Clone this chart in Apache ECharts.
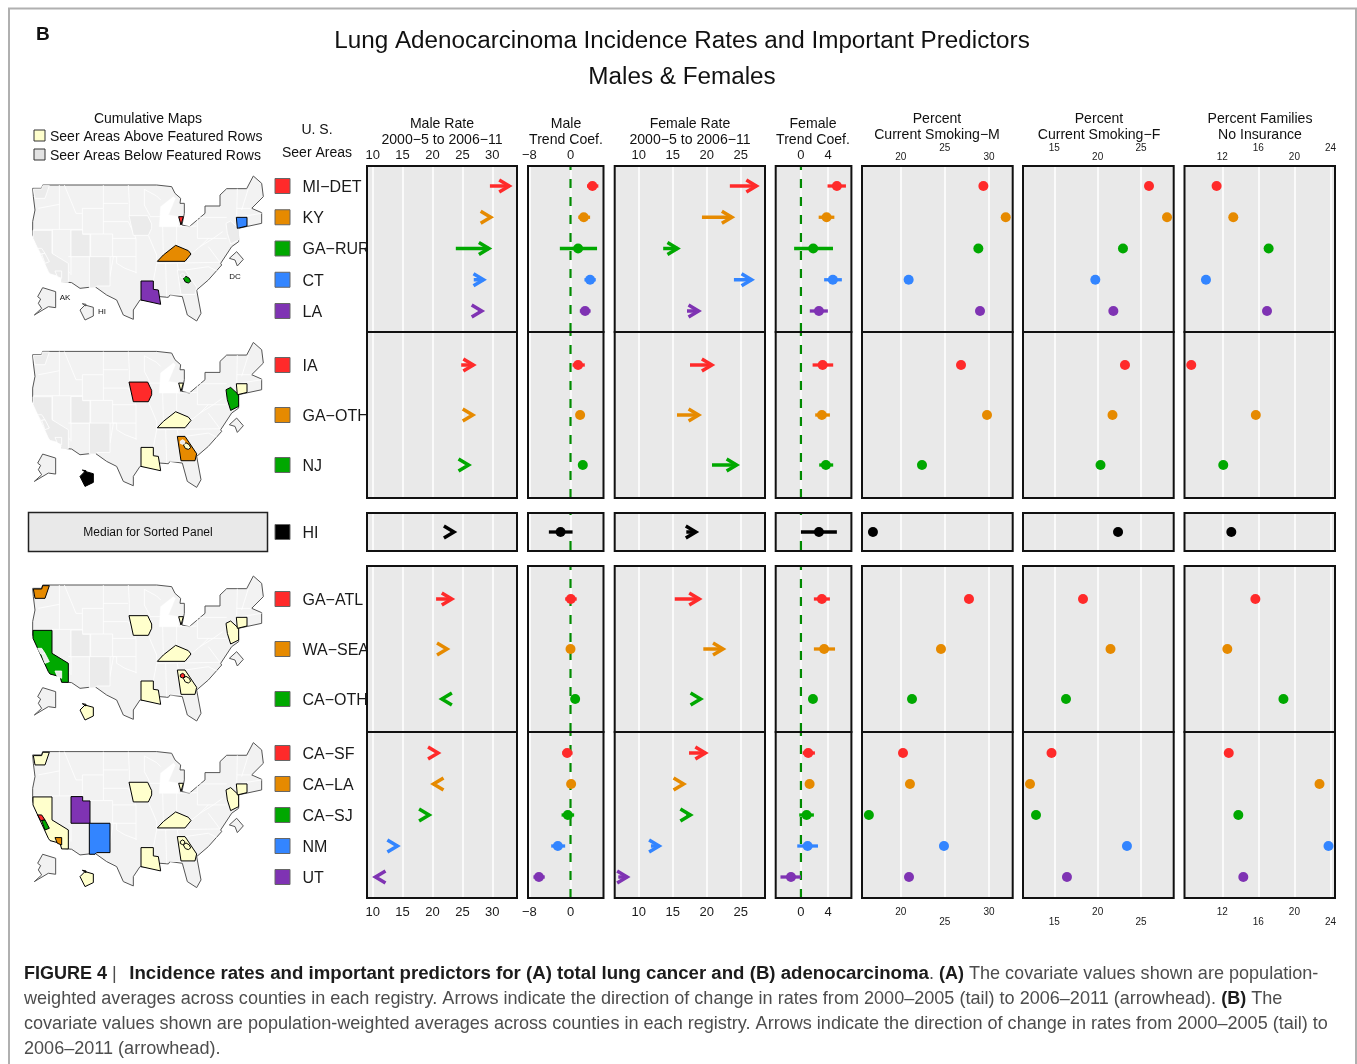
<!DOCTYPE html>
<html>
<head>
<meta charset="utf-8">
<style>html,body{margin:0;padding:0;background:#fff}#chart{width:1357px;height:1064px}</style>
<script src="https://cdn.jsdelivr.net/npm/echarts@6/dist/echarts.min.js"></script>
</head>
<body>
<div id="chart"></div>
<script>
// ---------- DATA (17 SEER areas, in display order) ----------
const rowLabels = ['MI\u2212DET','KY','GA\u2212RUR','CT','LA','IA','GA\u2212OTH','NJ','HI','GA\u2212ATL','WA\u2212SEA','CA\u2212OTH','CA\u2212SF','CA\u2212LA','CA\u2212SJ','NM','UT'];
const groupSizes = [5,3,1,3,5];
const maleRateTail = [29.6,29.5,23.9,26.9,27.6,24.8,26.5,25.8,23.0,20.6,22.3,21.8,20.7,20.4,19.2,13.9,10.7];
const maleRateHead = [33.4,30.3,30.0,29.1,28.8,27.4,27.3,26.6,24.15,23.8,23.0,21.0,21.5,19.6,20.0,14.7,9.9];
const maleTrend = [4.25,2.57,1.47,3.8,2.83,1.47,1.86,2.38,-1.93,0.06,0,0.9,-0.65,0.12,-0.52,-2.46,-6.13];
const maleTrendLo = [3.2,1.5,-2.07,2.7,1.8,0.39,1.4,2.0,-4.2,-1.04,-0.5,0.4,-1.6,-0.7,-1.74,-3.75,-7.2];
const maleTrendHi = [5.4,3.8,5.15,4.9,3.9,2.77,2.3,2.8,0.4,1.2,0.5,1.4,0.4,0.9,0.7,-1.04,-5];
const femaleRateTail = [23.4,19.3,13.6,24.0,17.1,17.54,15.63,20.78,17.0,15.3,19.5,18.9,17.4,16.4,17.0,11.8,7.0];
const femaleRateHead = [27.8,24.2,16.2,27.1,19.3,21.26,19.31,24.9,18.9,19.4,22.9,19.6,20.3,17.1,18.1,13.5,8.8];
const femaleTrend = [5.27,3.76,1.8,4.68,2.64,3.18,3.07,3.66,2.64,3.07,3.4,1.76,1.07,1.27,0.83,0.98,-1.46];
const femaleTrendLo = [3.9,2.6,-1.0,3.4,1.3,1.71,2.09,2.68,0,1.9,1.9,1.3,0.25,0.7,-0.25,-0.54,-3];
const femaleTrendHi = [6.6,4.9,4.7,6.0,3.95,4.73,4.25,4.73,5.27,4.25,5.0,2.2,2.05,1.8,1.9,2.5,0];
const smokingM = [29.36,31.89,28.79,20.9,28.98,26.83,29.77,22.41,16.86,27.73,24.56,21.28,20.26,21.05,16.4,24.9,20.94];
const smokingF = [25.92,28.0,22.92,19.73,21.81,23.15,21.71,20.33,22.35,18.31,21.48,16.35,14.68,12.2,12.89,23.38,16.46];
const noInsurance = [11.37,13.22,17.14,10.19,16.96,8.56,15.72,12.11,13.0,15.67,12.56,18.78,12.72,22.78,13.78,23.78,14.33];

const ticksMaleRate = [10,15,20,25,30];
const ticksMaleTrend = [-8,0];
const ticksFemaleRate = [10,15,20,25];
const ticksFemaleTrend = [0,4];
const ticksSmokingM = [20,25,30];
const ticksSmokingF = [15,20,25];
const ticksInsurance = [12,16,20,24];
const farSmokingM = [25];
const farSmokingF = [15,25];
const farInsurance = [16,24];

const headers = [
  ['Male Rate','2000\u22125 to 2006\u221211'],
  ['Male','Trend Coef.'],
  ['Female Rate','2000\u22125 to 2006\u221211'],
  ['Female','Trend Coef.'],
  ['Percent','Current Smoking\u2212M'],
  ['Percent','Current Smoking\u2212F'],
  ['Percent Families','No Insurance']
];

// ---------- STYLE ----------
const FONT = '"Liberation Sans", Arial, sans-serif';
const palette = ['#ff2a2a','#e68a00','#00a800','#3385ff','#7f33b3'];
const PANEL = '#e9e9e9', YELLOW = '#ffffcc', LIGHT = '#f2f2f2', DARKER = '#ebebeb';

// Panel layout
const columns = [
  {left:367,   width:150,   min:9.05,   max:34.13, ticks:ticksMaleRate,   far:null,          kind:'arrow', a:maleRateTail,   b:maleRateHead},
  {left:528,   width:75.5,  min:-8.25,  max:6.4,   ticks:ticksMaleTrend,  far:null,          kind:'trend', a:maleTrend,      lo:maleTrendLo, hi:maleTrendHi},
  {left:614.7, width:150.3, min:6.47,   max:28.57, ticks:ticksFemaleRate, far:null,          kind:'arrow', a:femaleRateTail, b:femaleRateHead},
  {left:775.7, width:75.7,  min:-3.7,   max:7.4,   ticks:ticksFemaleTrend,far:null,          kind:'trend', a:femaleTrend,    lo:femaleTrendLo, hi:femaleTrendHi},
  {left:862,   width:150.7, min:15.62,  max:32.68, ticks:ticksSmokingM,   far:farSmokingM,   kind:'dot',   a:smokingM},
  {left:1023,  width:150.7, min:11.39,  max:28.77, ticks:ticksSmokingF,   far:farSmokingF,   kind:'dot',   a:smokingF},
  {left:1184.5,width:150.5, min:7.81,   max:24.5,  ticks:ticksInsurance,  far:farInsurance,  kind:'dot',   a:noInsurance}
];
const groups = [
  {top:166, height:166, ymin:-0.64, ymax:4.672, dash:[9,9]},
  {top:332, height:166, ymin:-0.66, ymax:2.66,  dash:[9,9]},
  {top:513, height:38,  ymin:-0.5,  ymax:0.5,   dash:[10,26]},
  {top:566, height:166, ymin:-0.66, ymax:2.66,  dash:[9,9]},
  {top:732, height:166, ymin:-0.677,ymax:4.677, dash:[9,9]}
];

// Row colours: each group cycles through the palette, HI is black
let offset = 0;
groups.forEach((g,gi)=>{ g.start = offset; g.n = groupSizes[gi]; offset += g.n; });
const rowColor = (gi,r)=> gi===2 ? '#000' : palette[r];

// ---------- MAP GEOMETRY (schematic outline, local units) ----------
const P = {
 outline:[[98,265],[125,265],[128,255],[470,255],[515,260],[525,280],[542,295],[540,310],[553,310],[553,340],[546,375],[568,380],[615,340],[615,318],[660,318],[660,285],[680,266],[740,266],[760,228],[785,250],[790,290],[755,325],[785,338],[785,370],[715,385],[716,425],[695,440],[662,490],[665,495],[625,540],[590,570],[603,640],[590,663],[562,645],[547,590],[510,585],[505,592],[480,590],[455,602],[420,600],[400,630],[400,658],[370,645],[350,600],[320,585],[285,560],[240,565],[215,548],[185,545],[185,520],[150,515],[98,405],[98,365],[105,330],[100,290]],
 lake:[[478,380],[482,320],[520,290],[526,295],[505,345],[535,350],[535,380]],
 AK:[[113,590],[128,563],[167,575],[167,623],[145,620],[103,645],[125,625],[115,610],[122,597]],
 DC:[[688,475],[710,455],[730,478],[712,498],[705,480]],
 HI:[[240,630],[255,615],[280,622],[280,648],[255,660]],
 HI2:[[247,611],[258,613],[258,618]],
 IA:[[387,347],[443,347],[455,372],[455,385],[445,406],[400,406]],
 NJ:[[678,370],[692,363],[716,385],[716,420],[692,432],[682,400]],
 CT:[[709,352],[741,352],[741,378],[712,385]],
 MI:[[536,350],[550,350],[543,375]],
 KY:[[472,484],[490,465],[527,436],[565,452],[573,462],[555,484]],
 GA:[[532,510],[555,510],[590,562],[585,583],[543,583]],
 RUR:[[550,535],[558,529],[568,535],[572,544],[565,549],[556,546]],
 ATL:[[541,524],[548,520],[554,524],[554,531],[548,534],[541,531]],
 LA:[[423,543],[460,543],[460,568],[475,570],[482,613],[423,600]],
 UT:[[213,390],[248,390],[248,403],[270,403],[270,470],[213,470]],
 NM:[[268,470],[330,470],[330,558],[290,558],[285,563],[268,563]],
 CA:[[99,391],[156,391],[156,460],[205,490],[205,547],[185,547],[180,530],[150,522],[145,515],[99,415]],
 SF:[[113,445],[125,445],[135,460],[122,462]],
 SJ:[[125,462],[135,460],[148,485],[135,490]],
 CALA:[[165,513],[185,513],[185,535],[172,530]],
 WA:[[100,267],[125,267],[128,257],[148,257],[135,295],[105,295]]
};
const stateLines = [
 [[178,255],[178,388]],[[115,325],[178,313]],[[193,255],[228,340],[247,340]],
 [[247,325],[310,325],[310,402],[247,402],[247,325]],[[310,255],[310,325]],[[310,310],[385,310]],
 [[385,255],[388,310],[388,347]],[[310,365],[385,365],[408,415]],[[310,402],[338,402],[338,470]],
 [[338,415],[408,415]],[[338,470],[408,470]],[[408,415],[408,520]],[[330,470],[350,470],[350,490],[375,505],[410,518]],
 [[100,388],[247,388]],[[157,388],[157,460],[210,520]],[[213,390],[213,525]],[[270,470],[270,565]],[[205,470],[270,470]],
 [[272,402],[272,470]],[[433,268],[433,315],[450,347]],[[450,350],[490,350]],[[433,268],[470,288],[482,300]],
 [[445,406],[470,465],[470,490]],[[488,380],[490,465]],[[530,380],[530,436]],[[535,380],[590,378]],[[592,352],[592,415]],
 [[592,352],[680,352]],[[712,266],[710,352]],[[725,330],[745,266]],[[710,325],[755,325]],[[710,352],[785,340]],
 [[470,490],[660,487]],[[573,462],[600,440],[640,415],[668,395]],[[592,415],[680,415]],[[600,440],[625,415]],
 [[470,490],[460,543]],[[497,490],[500,590]],[[532,490],[545,583]],[[510,585],[585,583]],
 [[555,510],[625,500],[650,512]],[[625,440],[660,487]],[[340,470],[330,530]]
];
const mapRegions = [
 ['outline',[P.outline]],['states',null],['lake',[P.lake]],
 ['AK',[P.AK]],['DC',[P.DC]],['HI',[P.HI,P.HI2]],
 ['IA',[P.IA]],['GA\u2212OTH',[P.GA]],['NJ',[P.NJ]],['CA\u2212OTH',[P.CA]],['UT',[P.UT]],['NM',[P.NM]],['KY',[P.KY]],['LA',[P.LA]],
 ['CT',[P.CT]],['MI\u2212DET',[P.MI]],['WA\u2212SEA',[P.WA]],['GA\u2212RUR',[P.RUR]],['GA\u2212ATL',[P.ATL]],
 ['CA\u2212SF',[P.SF]],['CA\u2212SJ',[P.SJ]],['CA\u2212LA',[P.CALA]]
];
const flipRing = r => r.map(p=>[p[0],-p[1]]);
const geojson = {type:'FeatureCollection',features:mapRegions.map(([name,rings])=>({
  type:'Feature',properties:{name},
  geometry: rings ? {type:'MultiPolygon',coordinates:rings.map(r=>[flipRing(r.concat([r[0]]))])}
                  : {type:'MultiLineString',coordinates:stateLines.map(flipRing)}
}))};
echarts.registerMap('usSeer',geojson);

// ---------- BUILD OPTION ----------
const grid=[], xAxis=[], yAxis=[], series=[], geo=[];
let axisIdx=0;
const noLine={show:false};

function makeAxisLabel(col,gi){
  const show = gi===0||gi===4;
  const small = !!col.far;
  const pad = gi===0 ? [0,0,9,0] : [10,0,0,0];
  return {
    show, customValues:col.ticks, hideOverlap:false,
    margin: gi===0 ? (small?4:4) : (small?9:8),
    color:'#1a1a1a', fontFamily:FONT, fontSize: small?10:13,
    formatter:(v)=>{
      const s=String(v).replace('-','\u2212');
      if(!small) return s;
      return col.far.includes(v)?`{far|${s}}`:`{near|${s}}`;
    },
    rich:{far:{fontSize:10,fontFamily:FONT,color:'#1a1a1a',padding:pad},near:{fontSize:10,fontFamily:FONT,color:'#1a1a1a'}}
  };
}

const renderArrow = (colors)=> (params,api)=>{
  const r=api.value(2);
  const t=api.coord([api.value(0),r]), h=api.coord([api.value(1),r]);
  const dir=h[0]>=t[0]?1:-1, color=colors[r];
  const tip=h[0]-3.4*dir, y=h[1];
  const st={stroke:color,lineWidth:3.5,fill:null,lineJoin:'miter',miterLimit:10};
  return {type:'group',children:[
    {type:'polyline',shape:{points:[[t[0],y],[tip,y]]},style:st},
    {type:'polyline',shape:{points:[[tip-10*dir,y-6],[tip,y],[tip-10*dir,y+6]]},style:st}
  ]};
};
const renderCI = (colors)=> (params,api)=>{
  const r=api.value(2);
  const a=api.coord([api.value(0),r]), b=api.coord([api.value(1),r]);
  return {type:'line',shape:{x1:a[0],y1:a[1],x2:b[0],y2:b[1]},style:{stroke:colors[r],lineWidth:3.3}};
};

const frames=[];
groups.forEach((g,gi)=>{
  const rows=[...Array(g.n).keys()];
  const colors=rows.map(r=>rowColor(gi,r));
  // Swatch + row-label column (sits under the panels so long names are cut by the first panel)
  grid.push({left:275,top:g.top,width:92,height:g.height,show:false,z:1});
  xAxis.push({gridIndex:axisIdx,type:'value',min:0,max:92,show:false});
  yAxis.push({gridIndex:axisIdx,type:'value',min:g.ymin,max:g.ymax,inverse:true,show:false});
  series.push({type:'scatter',xAxisIndex:axisIdx,yAxisIndex:axisIdx,z:1,silent:true,clip:false,
    symbol:'rect',symbolSize:15,
    data:rows.map(r=>({value:[7.5,r],name:rowLabels[g.start+r],
      itemStyle:{color:colors[r],borderColor:'#666',borderWidth:1,opacity:1}})),
    label:{show:true,position:'right',distance:12,offset:[0,1.5],formatter:'{b}',fontFamily:FONT,fontSize:16,color:'#1a1a1a'}
  });
  axisIdx++;

  columns.forEach((col,ci)=>{
    grid.push({left:col.left,top:g.top,width:col.width,height:g.height,show:true,z:2,
      backgroundColor:PANEL,borderWidth:0});
    frames.push({type:'rect',silent:true,z:20,shape:{x:col.left,y:g.top,width:col.width,height:g.height},style:{fill:null,stroke:'#111',lineWidth:2}});
    xAxis.push({gridIndex:axisIdx,type:'value',min:col.min,max:col.max,z:3,
      position: gi===4?'bottom':'top',
      axisLine:noLine,axisTick:{show:false,customValues:col.ticks},
      splitLine:{show:true,lineStyle:{color:'#fff',width:1.5}},
      axisLabel:makeAxisLabel(col,gi)});
    yAxis.push({gridIndex:axisIdx,type:'value',min:g.ymin,max:g.ymax,inverse:true,show:false,splitLine:noLine});
    const base={xAxisIndex:axisIdx,yAxisIndex:axisIdx,silent:true};
    const slice=arr=>arr.slice(g.start,g.start+g.n);
    if(col.kind==='arrow'){
      const tail=slice(col.a), head=slice(col.b);
      series.push({...base,type:'custom',z:6,renderItem:renderArrow(colors),
        encode:{x:[0,1],y:2},data:rows.map(r=>[tail[r],head[r],r])});
    }
    if(col.kind==='trend'){
      series.push({...base,type:'line',z:4,symbol:'none',clip:true,
        lineStyle:{color:'#008a00',width:2.2,type:g.dash},
        data:[[0,g.ymax],[0,g.ymin]]});
      const lo=slice(col.lo), hi=slice(col.hi);
      series.push({...base,type:'custom',z:5,renderItem:renderCI(colors),
        encode:{x:[0,1],y:2},data:rows.map(r=>[lo[r],hi[r],r])});
    }
    if(col.kind!=='arrow'){
      const v=slice(col.a);
      series.push({...base,type:'scatter',z:6,symbol:'circle',symbolSize:10,clip:false,
        data:rows.map(r=>({value:[v[r],r],itemStyle:{color:colors[r],opacity:1}}))});
    }
    axisIdx++;
  });
});

// Maps: one per featured panel group
const mapGroups=[0,1,3,4], mapTops=[176,342.4,576,742.6];
const baseRegions=mapRegions.map(r=>r[0]).filter(n=>!['outline','states','lake','AK','DC'].includes(n));
mapGroups.forEach((gi,mi)=>{
  const regions=[
    {name:'outline',itemStyle:{areaColor:LIGHT,borderColor:'#555',borderWidth:1}},
    {name:'states',itemStyle:{areaColor:'none',borderColor:'#fff',borderWidth:0.8}},
    {name:'lake',itemStyle:{areaColor:'#fff',borderColor:'#fff',borderWidth:0.5}},
    {name:'AK',itemStyle:{areaColor:LIGHT,borderColor:'#555',borderWidth:1}},
    {name:'DC',itemStyle:{areaColor:LIGHT,borderColor:'#555',borderWidth:1}}
  ];
  baseRegions.forEach(name=>{
    const idx=rowLabels.indexOf(name);
    const grp=groups.findIndex(g=>idx>=g.start&&idx<g.start+g.n);
    let st;
    if(grp===gi) st={areaColor:rowColor(gi,idx-groups[gi].start),borderColor:'#000',borderWidth:1};
    else if(name==='HI'){
      st = gi===1 ? {areaColor:'#000',borderColor:'#000',borderWidth:1}
         : gi>2 ? {areaColor:YELLOW,borderColor:'#000',borderWidth:1}
         : {areaColor:LIGHT,borderColor:'#555',borderWidth:1};
    }
    else if(grp<gi) st={areaColor:YELLOW,borderColor:'#000',borderWidth:1};
    else st={areaColor:DARKER,borderColor:'#fff',borderWidth:0.8};
    regions.push({name,itemStyle:st});
  });
  geo.push({map:'usSeer',silent:true,aspectScale:1,roam:false,z:1,
    left:98/3,top:mapTops[mi],width:(790-98)/3,height:(663-228)/3,
    label:{show:false},emphasis:{disabled:true},select:{disabled:true},
    itemStyle:{areaColor:LIGHT,borderColor:'#fff',borderWidth:0.8},
    regions});
});

// Text and decoration via graphic
const txt=(x,y,text,size,align,extra)=>({type:'text',silent:true,z:20,style:Object.assign({x,y:y+1,text,fontSize:size,fontFamily:FONT,fill:'#111',align:align||'center',verticalAlign:'middle'},extra||{})});
const graphics=[
  {type:'polyline',silent:true,z:0,shape:{points:[[9,1064],[9,8.5],[1356,8.5],[1356,1064]]},style:{stroke:'#b0b0b0',lineWidth:2,fill:null}},
  txt(36,34,'B',19,'left',{fontWeight:'bold'}),
  txt(682,40,'Lung Adenocarcinoma Incidence Rates and Important Predictors',24.25),
  txt(682,76,'Males & Females',24.25),
  txt(148,118,'Cumulative Maps',14),
  {type:'rect',silent:true,z:20,shape:{x:34,y:130,width:11,height:11},style:{fill:YELLOW,stroke:'#333',lineWidth:1}},
  txt(50,136,'Seer Areas Above Featured Rows',14,'left'),
  {type:'rect',silent:true,z:20,shape:{x:34,y:149,width:11,height:11},style:{fill:'#e3e3e3',stroke:'#333',lineWidth:1}},
  txt(50,155,'Seer Areas Below Featured Rows',14,'left'),
  txt(317,129,'U. S.',14),
  txt(317,152,'Seer Areas',14),
  {type:'rect',silent:true,z:20,shape:{x:28.5,y:512.5,width:239,height:39},style:{fill:PANEL,stroke:'#222',lineWidth:1.5}},
  txt(148,532,'Median for Sorted Panel',12),
  txt(65,297,'AK',8),txt(102,311,'HI',8),txt(235,276,'DC',8)
].concat(frames);
const headerY=[[123,139],[123,139],[123,139],[123,139],[118,134],[118,134],[118,134]];
const headerX=[442,566,690,813,937,1099,1260];
headers.forEach((h,i)=>{
  graphics.push(txt(headerX[i],headerY[i][0],h[0],14.1));
  graphics.push(txt(headerX[i],headerY[i][1],h[1],14.1));
});
const capRich={
  h:{fontFamily:FONT,fontSize:18,fontWeight:'bold',fill:'#1c1c1c',color:'#1c1c1c'},
  b:{fontFamily:FONT,fontSize:18.65,fontWeight:'bold',fill:'#1c1c1c',color:'#1c1c1c'},
  r:{fontFamily:FONT,fontSize:18.07,fill:'#4d4d4d',color:'#4d4d4d'},
  s:{fontFamily:FONT,fontSize:9,fill:'#4d4d4d',color:'#4d4d4d'}
};
const captionLines=[
 '{h|FIGURE 4}{r| |  }{s| }{b|Incidence rates and important predictors for (A) total lung cancer and (B) adenocarcinoma}{r|. }{h|(A)}{r| The covariate values shown are population-}',
 '{r|weighted averages across counties in each registry. Arrows indicate the direction of change in rates from 2000\u20132005 (tail) to 2006\u20132011 (arrowhead). }{h|(B)}{r| The}',
 '{r|covariate values shown are population-weighted averages across counties in each registry. Arrows indicate the direction of change in rates from 2000\u20132005 (tail) to}',
 '{r|2006\u20132011 (arrowhead).}'
];
captionLines.forEach((t,i)=>{
  graphics.push({type:'text',silent:true,z:20,style:{x:24,y:974+25*i,text:t,rich:capRich,fontFamily:FONT,fontSize:18,align:'left',verticalAlign:'middle'}});
});

const chart=echarts.init(document.getElementById('chart'),null,{renderer:'canvas',width:1357,height:1064});
chart.setOption({animation:false,backgroundColor:'#fff',tooltip:{show:false},grid,xAxis,yAxis,geo,series,graphic:{elements:graphics}});
</script>
</body>
</html>
